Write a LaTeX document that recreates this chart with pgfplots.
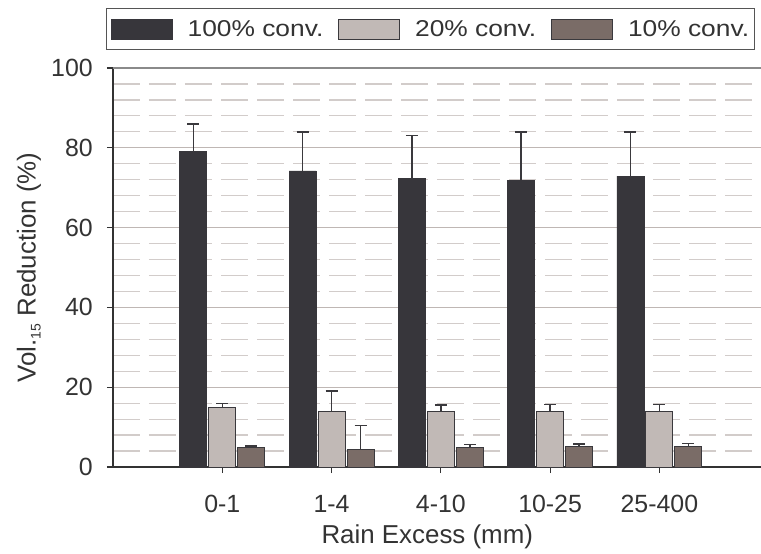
\documentclass[border=0pt]{standalone}
\usepackage{fontspec}
\setmainfont{Liberation Sans}
\newfontfamily\legfont[FakeStretch=1.15]{Liberation Sans}
\usepackage{pgfplots}
\pgfplotsset{compat=1.18}
\definecolor{cdark}{HTML}{37363B}
\definecolor{clight}{HTML}{C1B9B6}
\definecolor{cbrown}{HTML}{7A6C67}
\definecolor{cerr}{HTML}{3A393D}
\definecolor{ctext}{HTML}{333333}
\definecolor{cmajor}{HTML}{BFB7B4}
\definecolor{cminor}{HTML}{D2CCCA}
\definecolor{ctop}{HTML}{8A8A8A}
\definecolor{cleg}{HTML}{555555}
\begin{document}
\begin{tikzpicture}
\begin{axis}[
  scale only axis, width=648bp, height=399bp,
  xmin=-1, xmax=4.93, ymin=0, ymax=100,
  ybar=2bp, bar width=27bp,
  axis x line*=bottom, axis y line*=left,
  x axis line style={line width=2bp, color=ctext},
  y axis line style={line width=1.3bp, color=ctext},
  xtick={0,1,2,3,4},
  xticklabels={0-1,1-4,4-10,10-25,25-400},
  ytick={0,20,40,60,80,100},
  minor ytick={4,8,12,16,24,28,32,36,44,48,52,56,64,68,72,76,84,88,92,96},
  ymajorgrids, yminorgrids,
  major grid style={line width=1.2bp, color=cmajor},
  minor grid style={line width=1.2bp, color=cminor, dash pattern=on 27bp off 9bp},
  tick align=outside,
  major tick length=6bp, minor tick length=0pt,
  tick style={line width=1.2bp, color=ctext},
  /pgf/number format/assume math mode=true,
  every tick label/.append style={font=\fontsize{25}{30}\selectfont, text=ctext},
  xticklabel style={anchor=center, yshift=-31bp},
  yticklabel style={inner sep=0pt, anchor=east, xshift=-14bp},
  xlabel={Rain Excess (mm)},
  ylabel={Vol.\raisebox{-0.35ex}{\fontsize{14}{14}\selectfont 15} Reduction (\%)},
  label style={font=\fontsize{26}{31}\selectfont, text=ctext},
  xlabel style={at={(axis description cs:0.485,-0.1754)}, anchor=center},
  ylabel style={at={(axis description cs:-0.1296,0.5)}, anchor=center},
  legend columns=3,
  legend style={at={(axis description cs:0.990,1.150)}, anchor=north east,
    draw=cleg, line width=0.8bp, font=\legfont\fontsize{23}{28}\selectfont, text=ctext,
    inner xsep=5bp, inner ysep=10bp,
    nodes={inner sep=0pt},
    /tikz/every odd column/.append style={column sep=15bp},
    /tikz/every even column/.append style={column sep=15bp}},
  error bars/y dir=plus, error bars/y explicit,
  error bars/error bar style={line width=1.5bp, color=cerr},
  error bars/error mark options={rotate=90, mark size=6bp, line width=1.5bp, color=cerr},
]
\draw[ctop, line width=2bp] (rel axis cs:0,1) -- (rel axis cs:1,1);
\addplot[fill=cdark, draw=cdark, line width=0.6bp,
  legend image code/.code={\draw[fill=cdark, draw=cdark] (0bp,-10bp) rectangle (61bp,10bp);}]
  coordinates {(0,79.0) +- (0,7.0) (1,74.2) +- (0,9.7) (2,72.3) +- (0,10.8) (3,71.9) +- (0,12.1) (4,72.9) +- (0,11.1)};
\addplot[fill=clight, draw=cerr, line width=1bp,
  legend image code/.code={\draw[fill=clight, draw=cerr, line width=0.8bp] (0bp,-10bp) rectangle (61bp,10bp);}]
  coordinates {(0,14.9) +- (0,1.0) (1,13.9) +- (0,5.2) (2,13.9) +- (0,1.6) (3,13.8) +- (0,1.9) (4,14.0) +- (0,1.7)};
\addplot[fill=cbrown, draw=cerr, line width=1bp,
  legend image code/.code={\draw[fill=cbrown, draw=cerr, line width=0.8bp] (0bp,-10bp) rectangle (61bp,10bp);}]
  coordinates {(0,4.8) +- (0,0.5) (1,4.4) +- (0,6.0) (2,5.0) +- (0,0.6) (3,5.2) +- (0,0.6) (4,5.2) +- (0,0.7)};
\legend{100\% conv.,20\% conv.,10\% conv.}
\end{axis}
\pgfresetboundingbox
\path[use as bounding box] (-113bp,-87bp) rectangle (648bp,467bp);
\end{tikzpicture}
\end{document}
